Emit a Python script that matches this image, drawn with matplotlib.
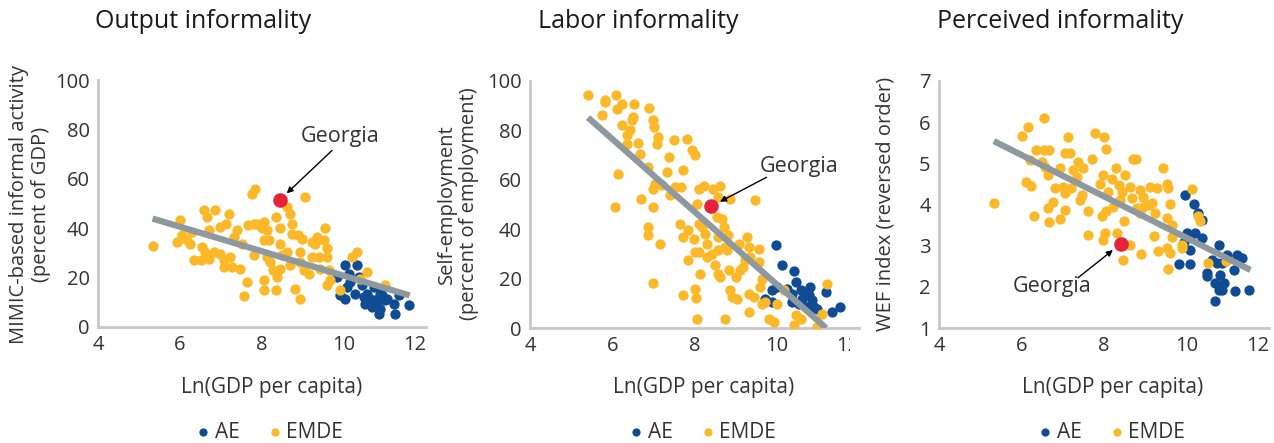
import matplotlib
matplotlib.use("Agg")
import matplotlib.pyplot as plt
from matplotlib.transforms import Bbox, TransformedBbox

# ---------------------- Data ----------------------

# Output informality (MIMIC, percent of GDP)
out_emde_x = [5.33, 6.01, 5.93, 6.05, 6.17, 6.29, 6.25, 6.33, 6.50, 6.58, 6.66, 6.70, 6.54, 6.62,
              6.70, 6.82, 6.86, 6.98, 7.11, 7.19, 6.98, 7.07, 7.07, 7.23, 7.27, 7.31, 7.39, 7.47,
              7.51, 7.63, 7.55, 7.67, 7.76, 7.84, 7.80, 7.88, 7.80, 8.00, 8.04, 8.12, 8.04, 8.16,
              8.04, 8.04, 8.12, 8.20, 8.28, 8.33, 8.33, 8.37, 8.45, 8.45, 8.45, 8.49, 8.61, 8.69,
              8.73, 8.73, 8.61, 8.69, 8.81, 8.89, 8.93, 8.93, 8.93, 8.98, 9.06, 9.02, 9.14, 9.22,
              9.30, 9.34, 9.22, 9.38, 9.42, 9.50, 9.54, 9.59, 9.59, 9.63, 9.59, 9.67, 9.91, 10.20,
              10.32, 10.40, 10.56, 11.01]
out_emde_y = [32.8, 43.2, 34.5, 37.2, 35.1, 38.5, 33.8, 27.0, 27.0, 47.3, 44.6, 39.2, 32.4, 30.4,
              27.7, 30.4, 47.3, 40.5, 41.9, 45.9, 29.7, 27.0, 24.3, 28.4, 24.3, 36.5, 39.2, 23.6,
              33.8, 18.2, 12.4, 41.2, 54.0, 56.0, 41.9, 41.9, 29.1, 39.9, 42.6, 39.2, 35.1, 35.1,
              18.9, 14.9, 28.4, 26.4, 23.0, 44.6, 14.9, 20.3, 39.9, 33.8, 23.6, 29.1, 48.6, 45.9,
              41.9, 37.8, 30.4, 25.0, 15.5, 37.2, 30.4, 26.4, 11.5, 35.8, 52.7, 23.0, 21.6, 34.5,
              33.8, 36.5, 28.4, 28.4, 23.6, 35.1, 39.9, 31.8, 28.4, 23.0, 16.9, 18.9, 14.9, 28.4,
              30.4, 19.6, 22.3, 16.9]
out_ae_x = [9.83, 9.91, 10.03, 10.03, 10.11, 10.15, 10.07, 10.32, 10.36, 10.44, 10.48, 10.56,
            10.52, 10.64, 10.68, 10.76, 10.80, 10.85, 10.89, 10.72, 10.93, 11.01, 11.05, 11.21,
            11.25, 11.33, 11.58, 10.28, 10.56, 10.89]
out_ae_y = [20.3, 12.8, 11.5, 25.0, 21.6, 18.2, 16.2, 25.0, 20.3, 16.9, 12.2, 10.8, 9.5, 11.5,
            8.1, 10.8, 9.5, 5.4, 7.4, 16.2, 12.8, 10.8, 11.5, 9.5, 5.4, 12.8, 8.8, 13.5, 13.5, 13.5]
out_georgia = (8.43, 51.4)
out_trend_x = [5.33, 11.6]
out_trend_y = [43.9, 12.8]

# Labor informality (self-employment, percent of employment)
lab_emde_x = [5.41, 5.76, 5.82, 5.82, 6.09, 6.07, 6.15, 6.11, 6.23, 6.23, 6.35, 6.35, 6.43, 6.47,
              6.51, 6.54, 6.63, 6.67, 6.70, 6.88, 6.90, 6.98, 7.02, 7.12, 7.08, 6.98, 7.00, 6.88,
              6.88, 7.16, 6.98, 7.04, 7.20, 7.37, 7.33, 7.41, 7.49, 7.53, 7.67, 7.72, 7.81, 7.93,
              8.00, 7.65, 7.73, 7.85, 7.85, 7.73, 8.02, 8.03, 8.06, 7.98, 8.02, 8.10, 8.14, 8.06,
              8.10, 8.22, 8.10, 8.18, 8.26, 8.30, 8.30, 8.42, 8.46, 8.62, 8.58, 8.54, 8.67, 8.71,
              8.58, 8.50, 8.58, 8.62, 8.58, 8.75, 8.81, 8.79, 8.83, 8.75, 8.87, 8.87, 8.91, 9.03,
              9.00, 9.08, 9.11, 9.19, 9.28, 9.24, 9.32, 9.36, 9.32, 9.32, 9.44, 9.48, 9.56, 9.56,
              9.60, 9.64, 9.64, 9.72, 9.80, 9.93, 10.01, 10.17, 10.41, 10.46, 10.58, 10.98, 11.11,
              11.23]
lab_emde_y = [94.2, 86.1, 92.4, 91.5, 94.2, 49.0, 62.2, 88.8, 90.8, 82.0, 78.0, 74.6, 80.0, 84.1,
              85.4, 90.6, 74.9, 70.6, 52.4, 65.2, 89.1, 84.1, 81.4, 77.3, 74.6, 56.4, 49.0, 40.9,
              37.5, 34.1, 18.2, 58.4, 57.8, 69.2, 63.2, 53.7, 76.0, 57.1, 57.1, 64.1, 76.7, 71.9,
              69.9, 42.2, 36.8, 39.5, 27.4, 13.2, 15.9, 12.3, 3.8, 36.2, 30.8, 30.8, 22.0, 50.3,
              56.4, 57.4, 42.2, 40.9, 38.2, 34.1, 28.7, 30.1, 56.4, 57.4, 53.0, 44.9, 44.3, 40.9,
              36.8, 25.4, 22.0, 20.6, 31.4, 32.8, 37.5, 31.4, 23.3, 3.8, 52.4, 15.2, 12.6, 11.9,
              20.6, 34.1, 23.3, 24.7, 36.8, 27.4, 32.8, 28.7, 13.9, 6.5, 12.6, 51.7, 32.1, 26.7,
              16.6, 20.0, 9.9, 10.5, 3.8, 2.4, 9.9, 15.2, 1.1, 5.1, 3.8, 0.4, 5.8, 17.7]
lab_ae_x = [9.98, 10.13, 10.41, 9.72, 9.89, 10.01, 9.89, 10.25, 10.37, 10.46, 10.37, 10.58, 10.62,
            10.70, 10.78, 10.82, 10.86, 10.90, 10.74, 10.98, 11.19, 11.35, 11.54, 10.54]
lab_ae_y = [33.5, 25.4, 23.1, 11.9, 15.2, 16.6, 10.5, 15.9, 13.9, 18.6, 10.5, 15.2, 11.9, 13.9,
            13.2, 16.6, 11.2, 8.5, 8.5, 7.8, 14.6, 6.5, 8.5, 9.9]
lab_georgia = (8.41, 49.3)
lab_trend_x = [5.41, 11.2]
lab_trend_y = [85.2, 0.0]

# Perceived informality (WEF index, reversed order)
per_emde_x = [5.33, 6.00, 6.16, 6.20, 6.12, 6.24, 6.30, 6.34, 6.54, 6.55, 6.67, 6.49, 6.57, 6.65,
              6.65, 6.67, 6.77, 6.81, 6.93, 6.93, 7.05, 7.01, 7.05, 7.05, 7.13, 7.17, 7.24, 7.21,
              7.34, 7.38, 7.42, 7.46, 7.50, 7.62, 7.60, 7.72, 7.78, 7.90, 7.94, 7.98, 7.99, 8.02,
              7.98, 8.06, 8.06, 8.10, 8.19, 8.23, 8.29, 8.31, 8.37, 8.39, 8.47, 8.49, 8.51, 8.62,
              8.43, 8.63, 8.70, 8.78, 8.67, 8.79, 8.87, 8.89, 8.95, 8.95, 8.87, 9.08, 9.12, 9.16,
              9.20, 9.24, 9.28, 9.32, 9.44, 9.52, 9.56, 9.52, 9.52, 9.56, 9.60, 9.60, 9.64, 9.64,
              9.89, 9.89, 10.13, 10.29, 10.33, 10.53, 10.96]
per_emde_y = [4.03, 5.66, 5.89, 5.08, 4.55, 4.45, 3.71, 5.32, 5.32, 6.10, 5.32, 5.04, 4.92, 4.72,
              3.91, 3.58, 4.05, 4.39, 4.88, 3.64, 5.26, 4.43, 4.27, 3.87, 5.64, 5.26, 4.84, 4.39,
              4.68, 5.04, 4.11, 4.23, 4.88, 3.83, 3.26, 5.10, 5.74, 4.51, 3.71, 4.72, 5.64, 3.30,
              3.14, 5.36, 3.83, 4.31, 4.63, 3.95, 4.88, 3.30, 4.47, 4.11, 2.66, 3.61, 4.72, 3.02,
              4.31, 4.43, 5.10, 5.10, 4.15, 3.91, 4.35, 2.79, 4.19, 3.95, 3.79, 3.99, 4.43, 4.03,
              3.24, 3.79, 4.39, 2.86, 4.88, 4.51, 4.39, 3.67, 2.94, 2.43, 2.82, 4.01, 3.50, 3.22,
              3.02, 2.94, 4.37, 3.71, 3.59, 2.58, 2.62]
per_ae_x = [9.81, 9.97, 10.01, 9.93, 10.09, 10.09, 10.17, 10.29, 10.37, 10.21, 10.37, 10.49,
            10.49, 10.62, 10.74, 10.78, 10.82, 10.70, 10.78, 10.90, 10.86, 10.70, 10.98, 11.14,
            11.22, 11.18, 11.34, 11.51, 10.86]
per_ae_y = [2.56, 4.23, 3.30, 3.10, 2.56, 2.90, 4.01, 3.79, 3.63, 3.30, 3.18, 2.33, 2.27, 2.66,
            2.58, 3.02, 2.29, 2.09, 1.93, 2.09, 1.93, 1.65, 2.78, 2.41, 2.78, 1.89, 2.70, 1.93, 2.58]
per_georgia = (8.40, 3.04)
per_trend_x = [5.33, 11.55]
per_trend_y = [5.54, 2.41]

titles = ["Output informality", "Labor informality", "Perceived informality"]
ylabels = ["MIMIC-based informal activity\n(percent of GDP)",
           "Self-employment\n(percent of employment)",
           "WEF index (reversed order)"]
xlabel = "Ln(GDP per capita)"
xticks = [4, 6, 8, 10, 12]

# ---------------------- Style ----------------------

BLUE = "#0f4c94"
YELLOW = "#fbb829"
RED = "#e8213b"
GREY = "#8e999f"
SPINE = "#c8c8c8"
TXT = "#333333"
FS = 14.5

plt.rcParams["font.family"] = ["Open Sans", "DejaVu Sans"]

W, H = 1274, 443
fig = plt.figure(figsize=(W / 100, H / 100), dpi=100)


def px_axes(left, top, right, bottom):
    return fig.add_axes([left / W, 1 - bottom / H, (right - left) / W, (bottom - top) / H])


panels = [
    dict(box=(98, 80, 426, 327), ylim=(0, 100), yticks=[0, 20, 40, 60, 80, 100],
         emde=(out_emde_x, out_emde_y), ae=(out_ae_x, out_ae_y), geo=out_georgia,
         trend=(out_trend_x, out_trend_y), note=((9.9, 77), (9.71, 71.5)),
         title_x=95, ylab_x=30, xlab_x=272, leg_x=270),
    dict(box=(530, 81, 859, 328), ylim=(0, 100), yticks=[0, 20, 40, 60, 80, 100],
         emde=(lab_emde_x, lab_emde_y), ae=(lab_ae_x, lab_ae_y), geo=lab_georgia,
         trend=(lab_trend_x, lab_trend_y), note=((10.55, 65.2), (9.75, 61.0)),
         title_x=538, ylab_x=458, xlab_x=704, leg_x=703),
    dict(box=(939, 81, 1269, 328), ylim=(1, 7), yticks=[1, 2, 3, 4, 5, 6, 7],
         emde=(per_emde_x, per_emde_y), ae=(per_ae_x, per_ae_y), geo=per_georgia,
         trend=(per_trend_x, per_trend_y), note=((6.74, 2.0), (7.37, 2.22)),
         title_x=937, ylab_x=885, xlab_x=1113, leg_x=1112),
]

for i, p in enumerate(panels):
    ax = px_axes(*p["box"])
    ax.set_xlim(4, 12)
    ax.set_ylim(*p["ylim"])
    ax.set_xticks(xticks)
    ax.set_yticks(p["yticks"])
    for s in ["top", "right"]:
        ax.spines[s].set_visible(False)
    for s in ["left", "bottom"]:
        ax.spines[s].set_color(SPINE)
        ax.spines[s].set_linewidth(2)
    ax.tick_params(length=0, labelsize=FS, colors=TXT, pad=6)
    ax.patch.set_alpha(0)

    # Excel pulls the last x label inward
    last = ax.get_xticklabels()[-1]
    last.set_horizontalalignment("right")
    if i == 1:
        last.set_clip_box(TransformedBbox(Bbox([[0, 0], [850 / W, 1]]), fig.transFigure))
        last.set_clip_on(True)

    h_ae = ax.scatter(*p["ae"], s=55, color=BLUE, linewidths=0, zorder=2, label="AE")
    h_em = ax.scatter(*p["emde"], s=55, color=YELLOW, linewidths=0, zorder=3, label="EMDE")
    ax.plot(*p["trend"], color=GREY, lw=4.5, solid_capstyle="butt", zorder=4)
    ax.scatter([p["geo"][0]], [p["geo"][1]], s=110, color=RED, linewidths=0, zorder=5)

    txt_xy, start_xy = p["note"]
    ax.text(*txt_xy, "Georgia", ha="center", va="center", fontsize=15.5, color=TXT)
    ax.annotate("", xy=p["geo"], xytext=start_xy,
                arrowprops=dict(arrowstyle="-|>", color="black", lw=1,
                                mutation_scale=9, shrinkB=7, shrinkA=0))

    fig.text(p["title_x"] / W, 1 - 21 / H, titles[i], fontsize=18, color="#1a1a1a",
             ha="left", va="center")
    fig.text(p["ylab_x"] / W, 1 - 204 / H, ylabels[i], rotation=90, fontsize=FS,
             color=TXT, ha="center", va="center", multialignment="center", linespacing=1.15)
    fig.text(p["xlab_x"] / W, 1 - 387 / H, xlabel, fontsize=FS + 0.5, color=TXT,
             ha="center", va="center")
    fig.legend(handles=[h_ae, h_em], loc="center", bbox_to_anchor=(p["leg_x"] / W, 1 - 432 / H),
               ncol=2, frameon=False, fontsize=FS + 0.5, handletextpad=0.25, columnspacing=1.4,
               handlelength=0.6, markerscale=0.8, borderaxespad=0, labelcolor=TXT)

fig.savefig("out.png", dpi=100)
